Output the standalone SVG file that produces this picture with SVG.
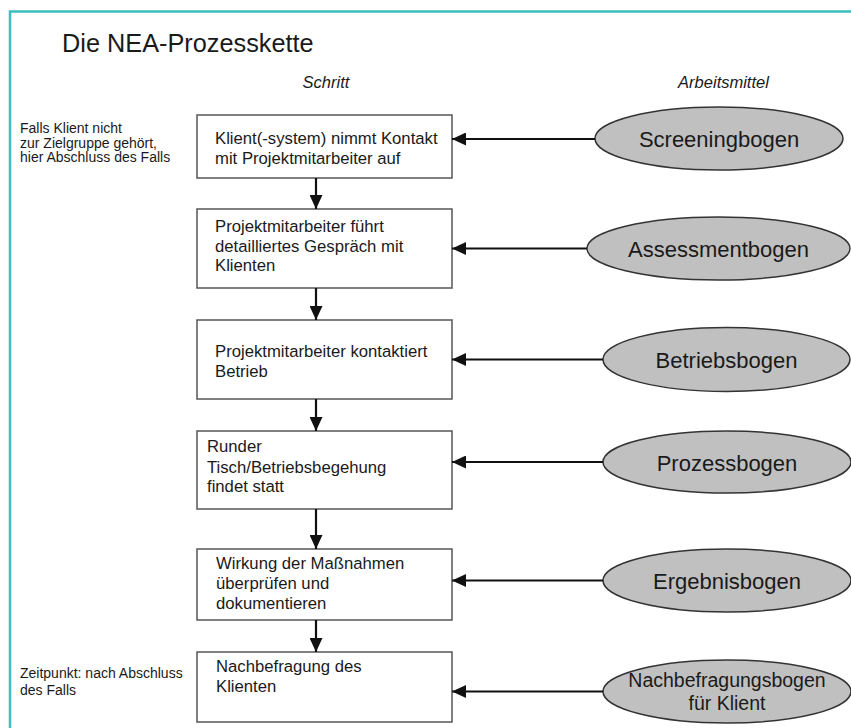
<svg xmlns="http://www.w3.org/2000/svg" width="851" height="728" viewBox="0 0 851 728">
<style>
text{font-family:"Liberation Sans",Arial,sans-serif;fill:#1a1a1a}
.title{font-size:25.3px}
.head{font-size:16.5px;font-style:italic}
.note{font-size:14px}
.box{fill:#fff;stroke:#555;stroke-width:1.5}
.bt{font-size:16.7px}
.ell{fill:#c0c0c0;stroke:#333;stroke-width:1.5}
.et{font-size:22px;text-anchor:middle}
.et2{font-size:19.5px;text-anchor:middle}
.conn line{stroke:#111;stroke-width:2.2}
</style>
<defs>
<marker id="ah" markerUnits="userSpaceOnUse" markerWidth="14" markerHeight="13" refX="14" refY="6.5" orient="auto">
<path d="M0,0 L14,6.5 L0,13 z" fill="#111"/>
</marker>
</defs>
<rect x="10" y="11.5" width="850" height="730" fill="#fff" stroke="#3dbdbd" stroke-width="2.5"/>
<text class="title" x="62" y="52">Die NEA-Prozesskette</text>
<text class="head" x="326" y="88" text-anchor="middle">Schritt</text>
<text class="head" x="723.5" y="88" text-anchor="middle">Arbeitsmittel</text>
<g id="note1">
<text class="note" x="20" y="133">Falls Klient nicht</text>
<text class="note" x="20" y="147.5">zur Zielgruppe gehört,</text>
<text class="note" x="20" y="162">hier Abschluss des Falls</text>
</g>
<g id="note2">
<text class="note" x="20" y="678">Zeitpunkt: nach Abschluss</text>
<text class="note" x="20" y="695">des Falls</text>
</g>
<g id="step1">
<rect class="box" x="197" y="115" width="255" height="63"/>
<text class="bt" x="215" y="144">Klient(-system) nimmt Kontakt</text>
<text class="bt" x="215" y="164">mit Projektmitarbeiter auf</text>
</g>
<g id="step2">
<rect class="box" x="197" y="209" width="255" height="79"/>
<text class="bt" x="215" y="232">Projektmitarbeiter führt</text>
<text class="bt" x="215" y="252">detailliertes Gespräch mit</text>
<text class="bt" x="215" y="271">Klienten</text>
</g>
<g id="step3">
<rect class="box" x="197" y="320" width="255" height="79"/>
<text class="bt" x="215" y="357">Projektmitarbeiter kontaktiert</text>
<text class="bt" x="215" y="377">Betrieb</text>
</g>
<g id="step4">
<rect class="box" x="197" y="431" width="255" height="78"/>
<text class="bt" x="207" y="452">Runder</text>
<text class="bt" x="207" y="473">Tisch/Betriebsbegehung</text>
<text class="bt" x="207" y="492">findet statt</text>
</g>
<g id="step5">
<rect class="box" x="197" y="549" width="255" height="71"/>
<text class="bt" x="216" y="569">Wirkung der Maßnahmen</text>
<text class="bt" x="216" y="589">überprüfen und</text>
<text class="bt" x="216" y="609">dokumentieren</text>
</g>
<g id="step6">
<rect class="box" x="197" y="652" width="255" height="70"/>
<text class="bt" x="216" y="672">Nachbefragung des</text>
<text class="bt" x="216" y="692">Klienten</text>
</g>
<g id="tool1">
<ellipse class="ell" cx="719" cy="138.5" rx="124" ry="31.5"/>
<text class="et" x="719" y="147">Screeningbogen</text>
</g>
<g id="tool2">
<ellipse class="ell" cx="718.5" cy="248.5" rx="131.5" ry="31.5"/>
<text class="et" x="718.5" y="257">Assessmentbogen</text>
</g>
<g id="tool3">
<ellipse class="ell" cx="726.5" cy="359.5" rx="123.5" ry="32"/>
<text class="et" x="726.5" y="368">Betriebsbogen</text>
</g>
<g id="tool4">
<ellipse class="ell" cx="727" cy="462" rx="124" ry="31"/>
<text class="et" x="727" y="470.5">Prozessbogen</text>
</g>
<g id="tool5">
<ellipse class="ell" cx="727" cy="580.5" rx="124" ry="31.5"/>
<text class="et" x="727" y="589">Ergebnisbogen</text>
</g>
<g id="tool6">
<ellipse class="ell" cx="727" cy="691.5" rx="124" ry="31.5"/>
<text class="et2" x="727" y="687">Nachbefragungsbogen</text>
<text class="et2" x="727" y="710">für Klient</text>
</g>
<g class="conn" id="connectors">
<line x1="316" y1="178" x2="316" y2="209" marker-end="url(#ah)"/>
<line x1="316" y1="288" x2="316" y2="320" marker-end="url(#ah)"/>
<line x1="316" y1="399" x2="316" y2="431" marker-end="url(#ah)"/>
<line x1="316" y1="509" x2="316" y2="549" marker-end="url(#ah)"/>
<line x1="316" y1="620" x2="316" y2="652" marker-end="url(#ah)"/>
<line x1="595" y1="139" x2="452" y2="139" marker-end="url(#ah)"/>
<line x1="587" y1="248.5" x2="452" y2="248.5" marker-end="url(#ah)"/>
<line x1="603" y1="359.5" x2="452" y2="359.5" marker-end="url(#ah)"/>
<line x1="603" y1="462" x2="452" y2="462" marker-end="url(#ah)"/>
<line x1="603" y1="580.5" x2="452" y2="580.5" marker-end="url(#ah)"/>
<line x1="603" y1="691.5" x2="452" y2="691.5" marker-end="url(#ah)"/>
</g>
</svg>
